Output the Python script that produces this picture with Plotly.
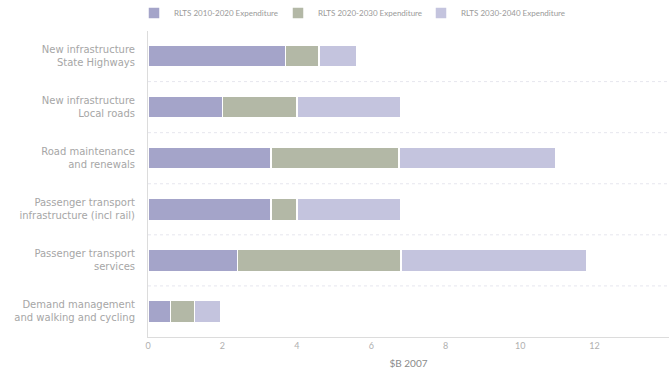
import plotly.graph_objects as go

categories = [
    "New infrastructure<br>State Highways",
    "New infrastructure<br>Local roads",
    "Road maintenance<br>and renewals",
    "Passenger transport<br>infrastructure (incl rail)",
    "Passenger transport<br>services",
    "Demand management<br>and walking and cycling",
]
series_names = [
    "RLTS 2010-2020 Expenditure",
    "RLTS 2020-2030 Expenditure",
    "RLTS 2030-2040 Expenditure",
]
exp_2010_2020 = [3.7, 2.0, 3.3, 3.3, 2.4, 0.6]
exp_2020_2030 = [0.9, 2.0, 3.45, 0.7, 4.4, 0.65]
exp_2030_2040 = [1.0, 2.8, 4.2, 2.8, 5.0, 0.7]
x_ticks = [0, 2, 4, 6, 8, 10, 12, 14]

colors = ["#a4a4c9", "#b3b8a6", "#c4c4de"]
legend_ids = ["legend", "legend2", "legend3"]
legend_x = [134 / 672, 278 / 672, 421 / 672]
font = "Lato, 'Open Sans', sans-serif"
text_grey = "#9a9a9a"

fig = go.Figure()
for name, vals, col, lg in zip(series_names, [exp_2010_2020, exp_2020_2030, exp_2030_2040],
                               colors, legend_ids):
    fig.add_trace(go.Bar(
        y=categories, x=vals, name=name, orientation="h",
        marker=dict(color=col, line=dict(color="white", width=1.5)),
        width=0.43, legend=lg, showlegend=True,
    ))

# faint dotted separators between category rows
for i in range(len(categories) - 1):
    fig.add_shape(type="line", xref="paper", x0=0, x1=1, yref="y",
                  y0=i + 0.5, y1=i + 0.5,
                  line=dict(color="#e6e6ee", width=1, dash="dot"), layer="below")

legend_style = dict(orientation="h", xref="container", yref="container",
                    y=1 - 13 / 378, xanchor="left", yanchor="middle",
                    font=dict(size=8, color=text_grey), itemwidth=30,
                    bgcolor="rgba(0,0,0,0)")

fig.update_layout(
    width=672, height=378,
    margin=dict(l=148, r=3, t=28, b=41),
    barmode="stack",
    showlegend=True,
    plot_bgcolor="white", paper_bgcolor="white",
    font=dict(family=font, size=9, color=text_grey),
    legend=dict(x=legend_x[0], **legend_style),
    legend2=dict(x=legend_x[1], **legend_style),
    legend3=dict(x=legend_x[2], **legend_style),
    xaxis=dict(range=[0, 14], tickvals=x_ticks, showgrid=False, zeroline=False,
               showline=True, linecolor="#dcdcdc", ticks="",
               title=dict(text="$B 2007", font=dict(size=10, color="#8a8a8a"), standoff=10),
               tickfont=dict(size=9, color="#b0b0b0")),
    yaxis=dict(autorange="reversed", showgrid=False, showline=True, linecolor="#dcdcdc",
               ticks="", ticklabelstandoff=10,
               tickfont=dict(family="'DejaVu Sans', sans-serif", size=10, color="#a6a6a6")),
)

fig.write_html("out.html")
